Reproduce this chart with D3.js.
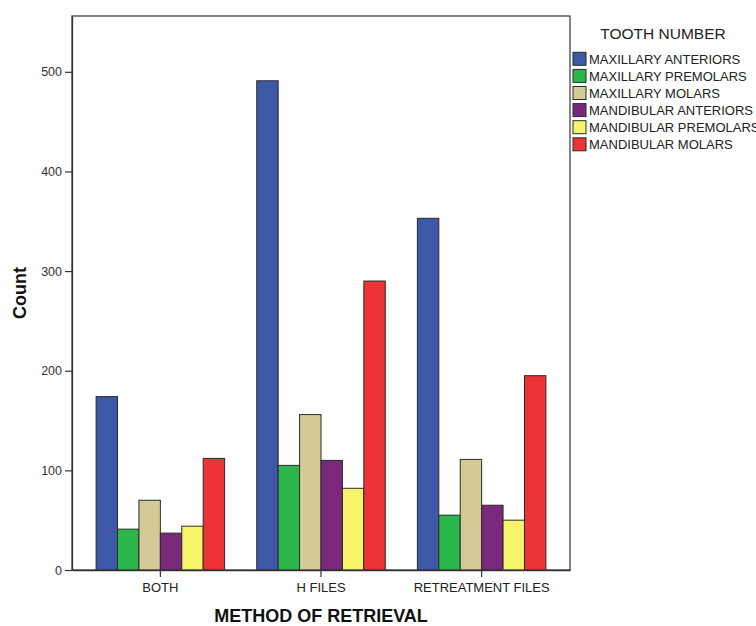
<!DOCTYPE html>
<html>
<head>
<meta charset="utf-8">
<script src="https://cdn.jsdelivr.net/npm/d3@7"></script>
<style>
  body { margin: 0; background: #fff; }
  svg { display: block; font-family: "Liberation Sans", Arial, sans-serif; }
</style>
</head>
<body>
<svg id="chart" width="756" height="626"></svg>
<script>
const categories = ["BOTH", "H FILES", "RETREATMENT FILES"];
const seriesNames = ["MAXILLARY ANTERIORS", "MAXILLARY PREMOLARS", "MAXILLARY MOLARS",
                     "MANDIBULAR ANTERIORS", "MANDIBULAR PREMOLARS", "MANDIBULAR MOLARS"];
const maxillaryAnteriors = [174, 491, 353];
const maxillaryPremolars = [41, 105, 55];
const maxillaryMolars = [70, 156, 111];
const mandibularAnteriors = [37, 110, 65];
const mandibularPremolars = [44, 82, 50];
const mandibularMolars = [112, 290, 195];
const yTicks = [0, 100, 200, 300, 400, 500];
const colors = ["#3e58a8", "#2cb74b", "#d3cb97", "#7a287c", "#f8f46a", "#ee3337"];

const seriesValues = [maxillaryAnteriors, maxillaryPremolars, maxillaryMolars,
                      mandibularAnteriors, mandibularPremolars, mandibularMolars];
const table = categories.map((c, i) => ({
  cat: c,
  vals: seriesNames.map((s, j) => ({ key: s, value: seriesValues[j][i], idx: j }))
}));

const svg = d3.select("#chart");
const plotLeft = 72, plotRight = 570, plotTop = 16, plotBottom = 570;

const x0 = d3.scaleBand().domain(categories).range([plotLeft, plotRight])
  .paddingInner(0.2).paddingOuter(0.15);
const x1 = d3.scaleBand().domain(seriesNames).range([0, x0.bandwidth()]).padding(0);
const y = d3.scaleLinear().domain([0, 556]).range([plotBottom, plotTop]);

// frame
svg.append("rect").attr("x", plotLeft).attr("y", plotTop)
  .attr("width", plotRight - plotLeft).attr("height", plotBottom - plotTop)
  .attr("fill", "none").attr("stroke", "#444").attr("stroke-width", 1.3);

// bars
const g = svg.append("g");
g.selectAll("g.grp").data(table).join("g").attr("class", "grp")
  .attr("transform", d => `translate(${x0(d.cat)},0)`)
  .selectAll("rect").data(d => d.vals).join("rect")
  .attr("x", d => x1(d.key))
  .attr("y", d => y(d.value))
  .attr("width", x1.bandwidth())
  .attr("height", d => y(0) - y(d.value))
  .attr("fill", d => colors[d.idx])
  .attr("stroke", "#2a2a2a").attr("stroke-width", 1);

// y axis
const yAxis = svg.append("g").attr("transform", `translate(${plotLeft},0)`)
  .call(d3.axisLeft(y).tickValues(yTicks).tickSize(7).tickSizeOuter(0).tickPadding(3));
yAxis.select(".domain").attr("stroke", "#333").attr("stroke-width", 1.3);
yAxis.selectAll(".tick line").attr("stroke", "#333").attr("stroke-width", 1.2);
yAxis.selectAll(".tick text").attr("fill", "#333").attr("font-size", 12.5)
  .attr("font-family", "Liberation Sans, Arial, sans-serif");

// x axis
const xAxis = svg.append("g").attr("transform", `translate(0,${plotBottom})`)
  .call(d3.axisBottom(x0).tickSize(7).tickSizeOuter(0).tickPadding(6));
xAxis.select(".domain").attr("stroke", "#333").attr("stroke-width", 1.3);
xAxis.selectAll(".tick line").attr("stroke", "#333").attr("stroke-width", 1.2);
xAxis.selectAll(".tick text").attr("fill", "#222").attr("font-size", 13)
  .attr("font-family", "Liberation Sans, Arial, sans-serif");

// axis titles
svg.append("text").attr("x", 321).attr("y", 622)
  .attr("text-anchor", "middle").attr("font-weight", "bold").attr("font-size", 18)
  .attr("fill", "#111").text("METHOD OF RETRIEVAL");
svg.append("text").attr("transform", "translate(26,293) rotate(-90)")
  .attr("text-anchor", "middle").attr("font-weight", "bold").attr("font-size", 18)
  .attr("fill", "#111").text("Count");

// legend
const leg = svg.append("g");
leg.append("text").attr("x", 663).attr("y", 39)
  .attr("text-anchor", "middle").attr("font-size", 15.5).attr("fill", "#222")
  .text("TOOTH NUMBER");
const items = leg.selectAll("g.item").data(seriesNames).join("g").attr("class", "item")
  .attr("transform", (d, i) => `translate(573,${59.3 + i * 17.1})`);
items.append("rect").attr("x", 0).attr("y", -7).attr("width", 13).attr("height", 13)
  .attr("fill", (d, i) => colors[i]).attr("stroke", "#2a2a2a").attr("stroke-width", 1);
items.append("text").attr("x", 16).attr("y", 0).attr("dy", "0.35em")
  .attr("font-size", 13).attr("fill", "#222").text(d => d);
</script>
</body>
</html>
